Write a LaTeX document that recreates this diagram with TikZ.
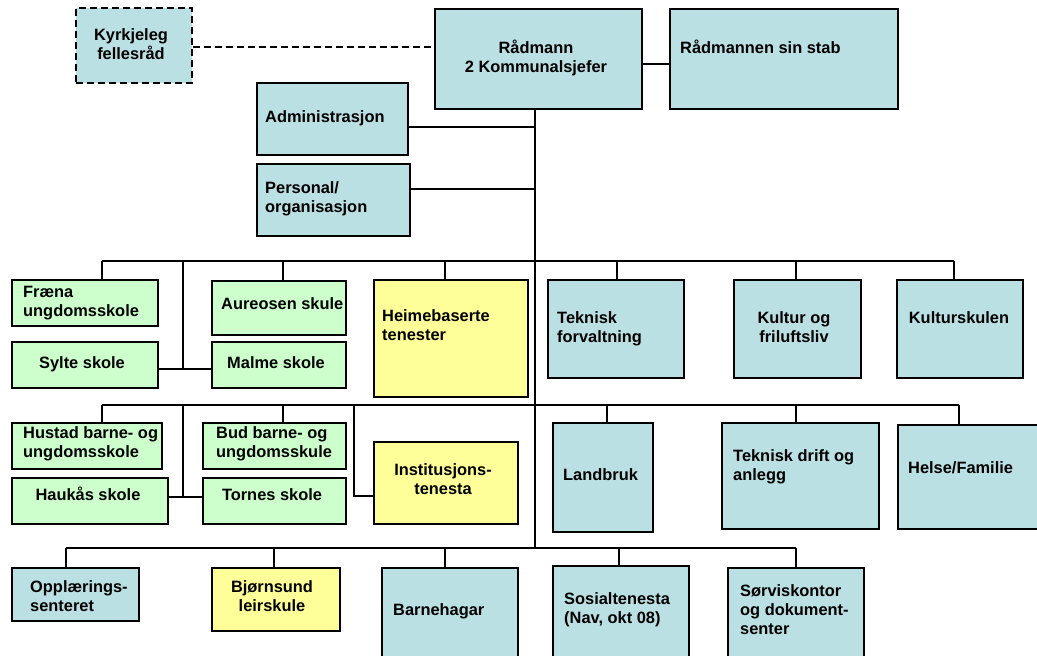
\documentclass[tikz,border=0pt]{standalone}
\usepackage{fontspec}
\setmainfont{Liberation Sans}
\definecolor{cblue}{RGB}{187,224,227}
\definecolor{cgreen}{RGB}{204,255,204}
\definecolor{cyellow}{RGB}{255,255,153}
\tikzset{
  box/.style={draw=black, line width=1.6pt, rectangle, inner sep=0pt, anchor=north west},
  bluebox/.style={box, fill=cblue},
  greenbox/.style={box, fill=cgreen},
  yellowbox/.style={box, fill=cyellow},
  conn/.style={draw=black, line width=1.6pt},
  txtl/.style={font=\bfseries\fontsize{16.4}{19}\selectfont, inner sep=0pt, anchor=base west, align=left},
  txtc/.style={font=\bfseries\fontsize{16.4}{19}\selectfont, inner sep=0pt, anchor=base, align=center},
}
\begin{document}
\begin{tikzpicture}[x=1pt,y=-1pt]
\useasboundingbox (0,0) rectangle (1037,656);
\clip (0,0) rectangle (1037,656);
\fill[white] (0,0) rectangle (1037,656);

% ---------- coordinates for buses ----------
\coordinate (trtop) at (535,108);
\coordinate (tr) at (535,548);
\coordinate (r1L) at (102,261);
\coordinate (r1R) at (954,261);
\coordinate (r1a) at (183,261);
\coordinate (sm) at (183,369);
\coordinate (r1b) at (283,261);
\coordinate (r1c) at (445,261);
\coordinate (r1d) at (617,261);
\coordinate (r1e) at (796,261);
\coordinate (r2L) at (102,405);
\coordinate (r2R) at (959,405);
\coordinate (r2a) at (183,405);
\coordinate (ht) at (183,497);
\coordinate (r2b) at (283,405);
\coordinate (r2c) at (354,405);
\coordinate (it) at (354,496);
\coordinate (r2d) at (607,405);
\coordinate (r2e) at (796,405);
\coordinate (r3L) at (66,548);
\coordinate (r3R) at (796,548);
\coordinate (r3b) at (274,548);
\coordinate (r3c) at (445,548);
\coordinate (r3d) at (619,548);
\coordinate (kd) at (0,47);
\coordinate (sd) at (0,64);
\coordinate (ad) at (0,127);
\coordinate (pd) at (0,189);

% ---------- boxes ----------
\node[bluebox, dashed, dash pattern=on 7pt off 4pt, minimum width=116pt, minimum height=75pt] (kyrk) at (75,7) {};
\node[bluebox, minimum width=207pt, minimum height=100pt] (radm) at (434,8) {};
\node[bluebox, minimum width=228pt, minimum height=100pt] (stab) at (669,8) {};
\node[bluebox, minimum width=151pt, minimum height=72pt] (adm) at (256,82) {};
\node[bluebox, minimum width=153pt, minimum height=72pt] (pers) at (256,163) {};

\node[greenbox, minimum width=146pt, minimum height=46pt] (fraena) at (11,279) {};
\node[greenbox, minimum width=134pt, minimum height=54pt] (aure) at (211,280) {};
\node[greenbox, minimum width=146pt, minimum height=46pt] (sylte) at (11,341) {};
\node[greenbox, minimum width=134pt, minimum height=46pt] (malme) at (211,341) {};
\node[yellowbox, minimum width=154pt, minimum height=117pt] (heime) at (373,279) {};
\node[bluebox, minimum width=136pt, minimum height=98pt] (tekf) at (547,279) {};
\node[bluebox, minimum width=127pt, minimum height=98pt] (kult) at (733,279) {};
\node[bluebox, minimum width=126pt, minimum height=98pt] (kskule) at (896,279) {};

\node[greenbox, minimum width=150pt, minimum height=46pt] (hustad) at (11,422) {};
\node[greenbox, minimum width=143pt, minimum height=46pt] (bud) at (202,422) {};
\node[greenbox, minimum width=156pt, minimum height=46pt] (haukas) at (11,477) {};
\node[greenbox, minimum width=143pt, minimum height=46pt] (tornes) at (202,477) {};
\node[yellowbox, minimum width=144pt, minimum height=82pt] (inst) at (373,441) {};
\node[bluebox, minimum width=100pt, minimum height=109pt] (landb) at (552,422) {};
\node[bluebox, minimum width=157pt, minimum height=106pt] (tekd) at (721,422) {};
\node[bluebox, minimum width=160pt, minimum height=104pt] (helse) at (897,424) {};

\node[bluebox, minimum width=127pt, minimum height=53pt] (opp) at (11,567) {};
\node[yellowbox, minimum width=128pt, minimum height=63pt] (bjorn) at (211,567) {};
\node[bluebox, minimum width=136pt, minimum height=100pt] (barne) at (381,567) {};
\node[bluebox, minimum width=136pt, minimum height=100pt] (sosial) at (552,565) {};
\node[bluebox, minimum width=136pt, minimum height=100pt] (sorvis) at (727,567) {};

% ---------- connectors ----------
\draw[conn, dashed, dash pattern=on 7pt off 4pt] (kyrk.east |- kd) -- (radm.west |- kd);
\draw[conn] (radm.east |- sd) -- (stab.west |- sd);
\draw[conn] (trtop) -- (tr);
\draw[conn] (adm.east |- ad) -- (trtop |- ad);
\draw[conn] (pers.east |- pd) -- (trtop |- pd);

\draw[conn] (r1L) -- (r1R);
\draw[conn] (r1L) -- (r1L |- fraena.north);
\draw[conn] (r1a) -- (sm);
\draw[conn] (sylte.east |- sm) -- (malme.west |- sm);
\draw[conn] (r1b) -- (r1b |- aure.north);
\draw[conn] (r1c) -- (r1c |- heime.north);
\draw[conn] (r1d) -- (r1d |- tekf.north);
\draw[conn] (r1e) -- (r1e |- kult.north);
\draw[conn] (r1R) -- (r1R |- kskule.north);

\draw[conn] (r2L) -- (r2R);
\draw[conn] (r2L) -- (r2L |- hustad.north);
\draw[conn] (r2a) -- (ht);
\draw[conn] (haukas.east |- ht) -- (tornes.west |- ht);
\draw[conn] (r2b) -- (r2b |- bud.north);
\draw[conn] (r2c) -- (it) -- (inst.west |- it);
\draw[conn] (r2d) -- (r2d |- landb.north);
\draw[conn] (r2e) -- (r2e |- tekd.north);
\draw[conn] (r2R) -- (r2R |- helse.north);

\draw[conn] (r3L) -- (r3R);
\draw[conn] (r3L) -- (r3L |- opp.north);
\draw[conn] (r3b) -- (r3b |- bjorn.north);
\draw[conn] (r3c) -- (r3c |- barne.north);
\draw[conn] (r3d) -- (r3d |- sosial.north);
\draw[conn] (r3R) -- (r3R |- sorvis.north);

% ---------- texts (anchor = baseline of last line) ----------
\node[txtc] (tkyrk) at (131,59) {Kyrkjeleg\\fellesråd};
\node[txtc] (tradm) at (536,72) {Rådmann\\2 Kommunalsjefer};
\node[txtl] (tstab) at (680,53) {Rådmannen sin stab};
\node[txtl] (tadm) at (265,122) {Administrasjon};
\node[txtl] (tpers) at (265,212) {Personal/\\organisasjon};
\node[txtl] (tfraena) at (23,316) {Fræna\\ungdomsskole};
\node[txtl] (taure) at (221,309) {Aureosen skule};
\node[txtc] (tsylte) at (82,368) {Sylte skole};
\node[txtc] (tmalme) at (276,368) {Malme skole};
\node[txtl] (theime) at (382,340) {Heimebaserte\\tenester};
\node[txtl] (ttekf) at (557,342) {Teknisk\\forvaltning};
\node[txtc] (tkult) at (794,342) {Kultur og\\friluftsliv};
\node[txtc] (tkskule) at (959,323) {Kulturskulen};
\node[txtl] (thustad) at (23,457) {Hustad barne- og\\ungdomsskole};
\node[txtl] (tbud) at (216,457) {Bud barne- og\\ungdomsskule};
\node[txtc] (thaukas) at (88,500) {Haukås skole};
\node[txtc] (ttornes) at (272,500) {Tornes skole};
\node[txtc] (tinst) at (443,494) {Institusjons-\\tenesta};
\node[txtl] (tlandb) at (563,480) {Landbruk};
\node[txtl] (ttekd) at (733,480) {Teknisk drift og\\anlegg};
\node[txtl] (thelse) at (908,473) {Helse/Familie};
\node[txtl] (topp) at (30,611) {Opplærings-\\senteret};
\node[txtc] (tbjorn) at (272,611) {Bjørnsund\\leirskule};
\node[txtl] (tbarne) at (393,615) {Barnehagar};
\node[txtl] (tsosial) at (564,623) {Sosialtenesta\\(Nav, okt 08)};
\node[txtl] (tsorvis) at (740,634) {Sørviskontor\\og dokument-\\senter};
\end{tikzpicture}
\end{document}
